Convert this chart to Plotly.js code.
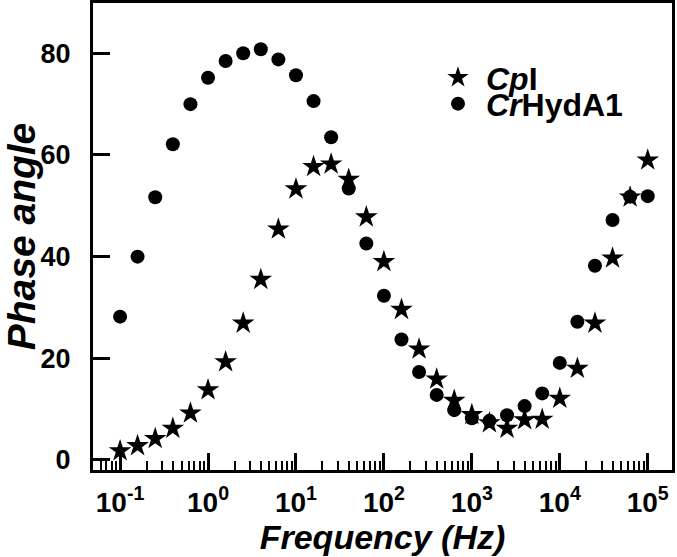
<!DOCTYPE html>
<html>
<head>
<meta charset="utf-8">
<script src="https://cdn.plot.ly/plotly-3.0.1.min.js"></script>
<style>html,body{margin:0;padding:0;background:#fff;}#chart{width:677px;height:557px;}</style>
</head>
<body>
<div id="chart"></div>
<script>
// Frequencies (Hz), 5 points per decade
var frequency = [0.1, 0.158, 0.251, 0.398, 0.631, 1, 1.585, 2.512, 3.981, 6.31,
  10, 15.85, 25.12, 39.81, 63.1, 100, 158.5, 251.2, 398.1, 631,
  1000, 1585, 2512, 3981, 6310, 10000, 15849, 25119, 39811, 63096, 100000];

// Phase angle, CpI (stars)
var phaseCpI = [1.8, 2.8, 4.2, 6.2, 9.2, 13.8, 19.3, 26.9, 35.5, 45.4,
  53.3, 57.7, 58.2, 55.2, 47.8, 39.0, 29.6, 21.8, 15.9, 11.7,
  8.9, 7.3, 6.2, 7.9, 8.0, 12.1, 18.0, 26.9, 39.7, 51.7, 59.0];

// Phase angle, CrHydA1 (circles)
var phaseCrHydA1 = [28.2, 40.0, 51.7, 62.1, 70.0, 75.2, 78.5, 80.0, 80.8, 78.8,
  75.7, 70.6, 63.5, 53.4, 42.6, 32.3, 23.7, 17.3, 12.8, 9.8,
  8.2, 7.7, 8.8, 10.6, 13.1, 19.1, 27.2, 38.2, 47.2, 51.8, 51.9];

var xTickVals = [0.1, 1, 10, 100, 1000, 10000, 100000];
var xTickText = ['10<sup>-1</sup>', '10<sup>0</sup>', '10<sup>1</sup>', '10<sup>2</sup>',
  '10<sup>3</sup>', '10<sup>4</sup>', '10<sup>5</sup>'];
var yTickVals = [0, 20, 40, 60, 80];
var seriesNames = ['<i>Cp</i>I', '<i>Cr</i>HydA1'];

var FONT = 'Liberation Sans, Arial, Helvetica, sans-serif';

var traces = [
  {x: frequency, y: phaseCpI, name: seriesNames[0], type: 'scatter', mode: 'markers',
   marker: {symbol: 'star', size: 17, color: '#000', line: {width: 0}}, legend: 'legend'},
  {x: frequency, y: phaseCrHydA1, name: seriesNames[1], type: 'scatter', mode: 'markers',
   marker: {symbol: 'circle', size: 14, color: '#000', line: {width: 0}}, legend: 'legend2'}
];

var legendCommon = {
  xanchor: 'left', yanchor: 'middle', bgcolor: 'rgba(0,0,0,0)', borderwidth: 0,
  font: {family: FONT, size: 32, color: '#000', weight: 'bold'}, itemwidth: 46
};

var layout = {
  width: 677, height: 557,
  margin: {l: 93, r: 5, t: 3, b: 87},
  paper_bgcolor: '#fff', plot_bgcolor: '#fff',
  font: {family: FONT, color: '#000'},
  showlegend: true,
  legend: Object.assign({x: 0.582, y: 0.840}, legendCommon),
  legend2: Object.assign({x: 0.582, y: 0.784}, legendCommon),
  xaxis: {
    type: 'log', range: [-1.308, 5.276],
    showline: true, linewidth: 3, linecolor: '#000', mirror: true,
    showgrid: false, zeroline: false,
    ticks: 'inside', ticklen: 17, tickwidth: 3, tickcolor: '#000',
    tickvals: xTickVals, ticktext: xTickText,
    tickfont: {family: FONT, size: 28, weight: 'bold', color: '#000'},
    ticklabelstandoff: 5,
    minor: {ticks: 'inside', ticklen: 9, tickwidth: 2, tickcolor: '#000', dtick: 'D1', showgrid: false},
    title: {text: 'Frequency (Hz)', standoff: 4,
      font: {family: FONT, size: 34, weight: 'bold', style: 'italic', color: '#000'}}
  },
  yaxis: {
    range: [-1.97, 89.9],
    showline: true, linewidth: 3, linecolor: '#000', mirror: true,
    showgrid: false, zeroline: false,
    ticks: 'inside', ticklen: 17, tickwidth: 3, tickcolor: '#000',
    tickvals: yTickVals,
    tickfont: {family: FONT, size: 27, weight: 'bold', color: '#000'},
    ticklabelstandoff: 14,
    title: {text: 'Phase angle', standoff: 4,
      font: {family: FONT, size: 39, weight: 'bold', style: 'italic', color: '#000'}}
  }
};

Plotly.newPlot('chart', traces, layout, {displayModeBar: false, staticPlot: true});
</script>
</body>
</html>
